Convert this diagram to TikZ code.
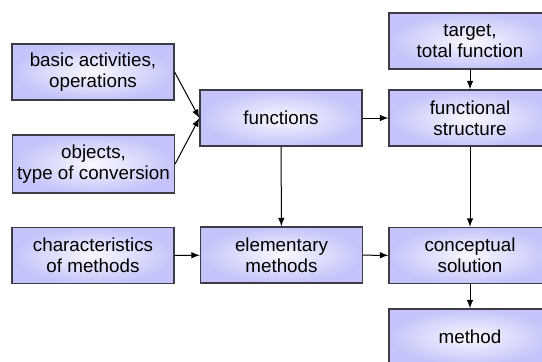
\documentclass[tikz,border=0pt]{standalone}
\usepackage{fontspec}
\setmainfont{Liberation Sans}
\usetikzlibrary{arrows}

\definecolor{boxedge}{RGB}{60,60,70}
\definecolor{boxouter}{RGB}{196,196,250}
\definecolor{boxinner}{RGB}{248,248,255}

\tikzset{
  blockbox/.style={draw=boxedge, line width=0.6pt, rectangle,
    shading=radial, inner color=boxinner, outer color=boxouter,
    minimum width=81pt, minimum height=28pt, align=center, inner sep=1pt,
    font=\fontsize{9.4}{10.6}\selectfont},
  flowarrow/.style={->, >=latex, line width=0.5pt}
}

\begin{document}
\begin{tikzpicture}[x=0.5pt,y=-0.5pt]
\clip (0,0) rectangle (542,361);

\node[blockbox] (basic) at (93,72) {basic activities,\\operations};
\node[blockbox, minimum height=29pt] (objects) at (93.5,164) {objects,\\type of conversion};
\node[blockbox] (chars) at (93,255.5) {characteristics\\of methods};

\node[blockbox] (functions) at (281,118) {functions};
\node[blockbox] (elementary) at (281.5,255) {elementary\\methods};

\node[blockbox] (target) at (470,41) {target,\\total function};
\node[blockbox] (structure) at (470,118) {functional\\structure};
\node[blockbox] (concept) at (470,255.5) {conceptual\\solution};
\node[blockbox] (method) at (470,337) {method};

\path[flowarrow] (basic.east) edge [] (functions.west);
\path[flowarrow] (objects.east) edge [] (functions.west);
\path[flowarrow] (functions) edge [] (structure);
\path[flowarrow] (target) edge [] (structure);

\path[flowarrow] (functions) edge [] (elementary);
\path[flowarrow] (structure) edge [] (concept);

\path[flowarrow] (chars) edge [] (elementary);
\path[flowarrow] (elementary) edge [] (concept);
\path[flowarrow] (concept) edge [] (method);
\end{tikzpicture}
\end{document}
